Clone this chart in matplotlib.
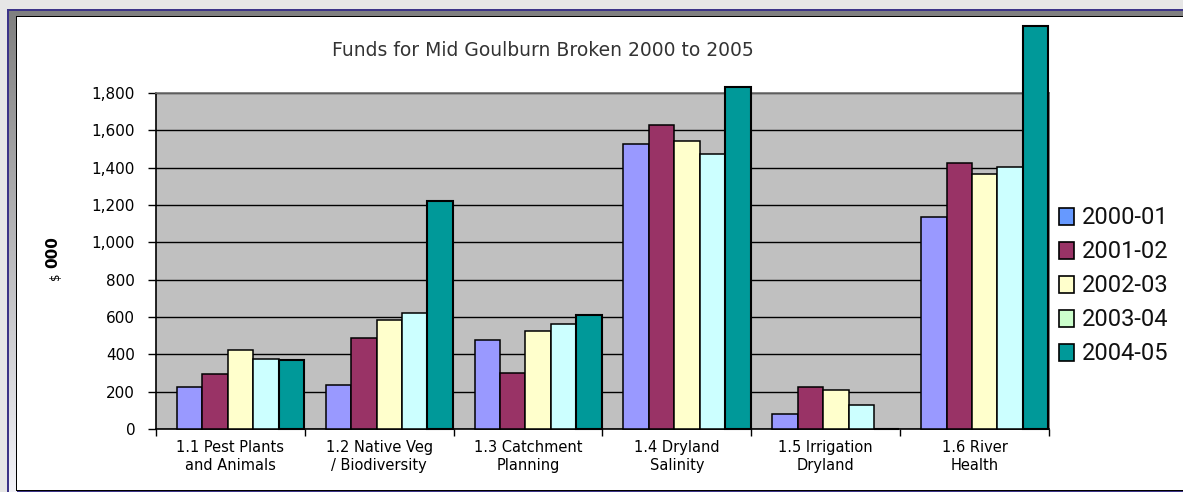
import numpy as np
import matplotlib
matplotlib.use("Agg")
import matplotlib.pyplot as plt
from matplotlib.patches import Rectangle

# ---------------- data ----------------
categories = ["1.1 Pest Plants\nand Animals", "1.2 Native Veg\n/ Biodiversity",
              "1.3 Catchment\nPlanning", "1.4 Dryland\nSalinity",
              "1.5 Irrigation\nDryland", "1.6 River\nHealth"]
series = ["2000-01", "2001-02", "2002-03", "2003-04", "2004-05"]
v2000_01 = [225, 235, 475, 1527, 80, 1137]
v2001_02 = [297, 490, 300, 1628, 225, 1423]
v2002_03 = [425, 585, 525, 1543, 207, 1366]
v2003_04 = [375, 620, 565, 1473, 128, 1402]
v2004_05 = [370, 1220, 610, 1832, 0, 2160]
yticks = [0, 200, 400, 600, 800, 1000, 1200, 1400, 1600, 1800]
title = "Funds for Mid Goulburn Broken 2000 to 2005"

bar_colors = ["#9999FF", "#993366", "#FFFFCC", "#CCFFFF", "#009999"]
legend_colors = ["#6699FF", "#993366", "#FFFFCC", "#CCFFCC", "#009999"]

W, H = 1183, 492
fig = plt.figure(figsize=(W / 100, H / 100), dpi=100, facecolor="#E6E6E6")

# ---------------- frame (pixel coordinates) ----------------
bg = fig.add_axes([0, 0, 1, 1], zorder=-5)
bg.set_xlim(0, W)
bg.set_ylim(H, 0)
bg.axis("off")
bg.add_patch(Rectangle((7, 9), W - 7, H - 9, facecolor="#3C3488", edgecolor="none"))
grad = np.linspace(0, 1, 200).reshape(-1, 1)
bg.imshow(grad, extent=(9, 17, H, 11), cmap=matplotlib.colors.LinearSegmentedColormap.from_list(
    "g", ["#808080", "#F2F2F8"]), aspect="auto", zorder=1)
bg.add_patch(Rectangle((9, 11), W - 9, 5.5, facecolor="#808080", edgecolor="none", zorder=2))
bg.add_patch(Rectangle((16, 16), W - 16, 475, facecolor="black", edgecolor="none", zorder=2))
bg.add_patch(Rectangle((17, 17), W - 17, 472.5, facecolor="white", edgecolor="none", zorder=3))

# ---------------- main axes ----------------
L, R, T, B = 156, 1049, 93, 429
ax = fig.add_axes([L / W, 1 - B / H, (R - L) / W, (B - T) / H])
ax.set_facecolor("#C0C0C0")
x = np.arange(len(categories))
all_vals = [v2000_01, v2001_02, v2002_03, v2003_04, v2004_05]
bw = 0.1707
off = 0.141
for k, (vals, col) in enumerate(zip(all_vals, bar_colors)):
    lw = 1.5 if k == 4 else 1.1
    bars = ax.bar(x - 0.5 + off + k * bw, vals, width=bw, align="edge",
                  color=col, edgecolor="black", linewidth=lw, zorder=3)
    for b in bars:
        b.set_clip_on(False)

ax.set_xlim(-0.5, len(categories) - 0.5)
ax.set_ylim(0, 1800)
ax.set_yticks(yticks)
ax.set_yticklabels([f"{t:,}" for t in yticks], fontsize=11, family="DejaVu Sans")
ax.yaxis.grid(True, color="black", linewidth=1.0, zorder=1)
ax.set_axisbelow(True)
ax.tick_params(axis="y", direction="out", length=6, width=1, pad=9, colors="black")
ax.set_xticks(np.arange(len(categories) + 1) - 0.5)
ax.set_xticklabels([])
ax.tick_params(axis="x", which="major", direction="out", length=5, width=1)
ax.set_xticks(x, minor=True)
ax.set_xticklabels(categories, minor=True, fontsize=10.5, family="DejaVu Sans",
                   linespacing=1.25, multialignment="center")
ax.tick_params(axis="x", which="minor", length=0, pad=8)
for s in ["left", "bottom"]:
    ax.spines[s].set_color("black")
    ax.spines[s].set_linewidth(1.2)
for s in ["top", "right"]:
    ax.spines[s].set_color("#707070")
    ax.spines[s].set_linewidth(1.2)

# ---------------- title & y label ----------------
fig.text(543 / W, 1 - 50 / H, title, ha="center", va="center", fontsize=13.5,
         color="#333333", family="DejaVu Sans")
fig.text(53 / W, 1 - 252 / H, "000", rotation=90, ha="center", va="center",
         fontsize=11, fontweight="bold", family="DejaVu Sans")
fig.text(56 / W, 1 - 276 / H, "$", rotation=90, ha="center", va="center",
         fontsize=8.5, family="DejaVu Sans")

# ---------------- legend ----------------
lx = fig.add_axes([0, 0, 1, 1], zorder=5)
lx.set_xlim(0, W)
lx.set_ylim(H, 0)
lx.axis("off")
for i, (name, col) in enumerate(zip(series, legend_colors)):
    yc = 216 + i * 34
    lx.add_patch(Rectangle((1059.5, yc - 8.5), 15, 17, facecolor=col,
                           edgecolor="black", linewidth=1.2))
    lx.text(1082, yc + 1, name, ha="left", va="center", fontsize=17,
            family=["Roboto", "DejaVu Sans"], color="#111111")

fig.savefig("out.png", dpi=100, facecolor=fig.get_facecolor())
